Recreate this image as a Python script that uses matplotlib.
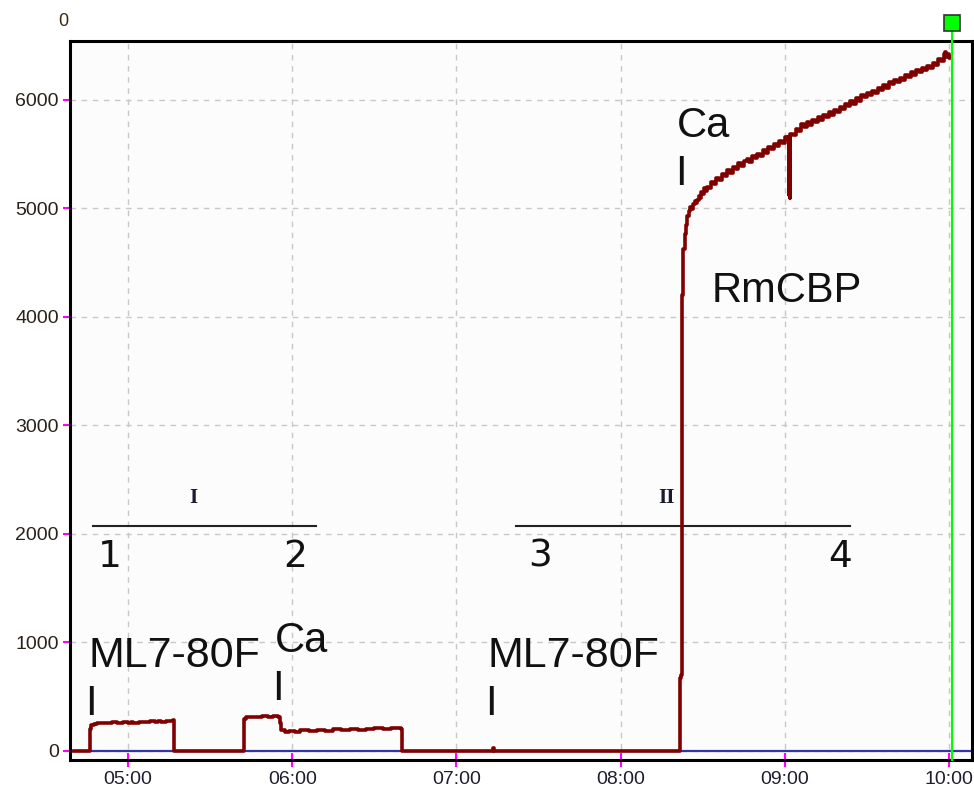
import matplotlib
matplotlib.use("Agg")
import matplotlib.pyplot as plt
from matplotlib.ticker import FixedLocator, FuncFormatter

# time in minutes since midnight, signal in counts
t_trace = [280.3, 285.6,
           285.7, 286.0, 286.4, 287.5, 288.5, 290, 292, 294, 296, 298, 300, 301, 302,
           304, 306, 308, 310, 311, 312, 314, 315.5, 316.5, 316.9,
           342.0, 342.3, 343, 345, 347, 349, 351, 353, 354.8, 355.4, 356, 357.5, 359,
           361, 363, 366, 369, 372, 375, 378, 381, 384, 387, 390, 393, 396, 398.5,
           399.8, 400.2,
           433.2, 433.4, 433.6,
           501.6, 501.7, 502.2, 502.4, 502.5, 502.8, 503.4, 503.9, 504.4, 505.0,
           505.5, 506.0, 506.5, 507.0, 507.5, 508.0, 508.5, 509.0, 509.5, 510.0,
           510.5, 511.0, 511.5, 512, 513, 514, 515, 516, 517, 518,
           519, 520, 521, 522, 523, 524, 525, 526, 527, 528,
           529, 530, 531, 532, 533, 534, 535, 536, 537, 538,
           539, 540, 540.8, 541.2, 541.4, 541.6, 541.8, 542.0, 543, 544,
           545, 546, 547, 548, 549, 550, 551, 552, 553, 554,
           555, 556, 557, 558, 559, 560, 561, 562, 563, 564,
           565, 566, 567, 568, 569, 570, 571, 572, 573, 574,
           575, 576, 577, 578, 579, 580, 581, 582, 583, 584,
           585, 586, 587, 588, 589, 590, 591, 592, 593, 594,
           595, 596, 597, 598, 598.5, 599, 599.5, 600, 600.4]
v_trace = [0, 0,
           0, 200, 235, 240, 250, 255, 252, 262, 258, 262, 250, 262, 258,
           265, 262, 270, 262, 272, 266, 276, 272, 278, 0,
           0, 290, 305, 312, 306, 316, 310, 318, 312, 250, 185, 168, 182,
           172, 186, 180, 190, 184, 194, 188, 196, 190, 200, 206, 198, 210, 204,
           200, 0,
           0, 25, 0,
           0, 670, 700, 3000, 4200, 4630, 4760, 4850, 4930, 4980,
           5010, 4990, 5040, 5065, 5050, 5080, 5115, 5095, 5150, 5135,
           5185, 5165, 5200, 5185, 5245, 5225, 5285, 5265, 5315, 5295,
           5355, 5330, 5385, 5365, 5415, 5390, 5435, 5455, 5430, 5485,
           5465, 5505, 5485, 5535, 5515, 5565, 5545, 5595, 5575, 5625,
           5600, 5655, 5640, 5660, 5120, 5660, 5100, 5690, 5675, 5735,
           5715, 5775, 5755, 5795, 5765, 5815, 5795, 5845, 5815, 5865,
           5845, 5885, 5865, 5905, 5885, 5935, 5915, 5965, 5945, 5995,
           5965, 6015, 5995, 6045, 6025, 6065, 6045, 6085, 6065, 6115,
           6095, 6135, 6115, 6165, 6145, 6185, 6165, 6205, 6185, 6235,
           6215, 6255, 6235, 6275, 6255, 6295, 6275, 6315, 6295, 6345,
           6325, 6375, 6355, 6425, 6445, 6400, 6425, 6400, 6390]

hour_ticks = [300, 360, 420, 480, 540, 600]
value_ticks = [0, 1000, 2000, 3000, 4000, 5000, 6000]
cursor_t = 601.1

fig = plt.figure(figsize=(9.74, 7.96), dpi=100)
fig.patch.set_facecolor("white")
ax = fig.add_axes([70 / 974, 36 / 796, 902 / 974, 719 / 796])
ax.set_facecolor("#fcfcfc")

ax.set_xlim(278.8, 608.4)
ax.set_ylim(-87.6, 6544)

ax.xaxis.set_major_locator(FixedLocator(hour_ticks))
ax.yaxis.set_major_locator(FixedLocator(value_ticks))
ax.xaxis.set_major_formatter(FuncFormatter(lambda x, p: "%02d:%02d" % (int(x) // 60, int(x) % 60)))
ax.grid(True, color="#c8c8c8", linestyle=(0, (4, 4)), linewidth=1.0)
ax.set_axisbelow(True)

for s in ax.spines.values():
    s.set_color("black")
    s.set_linewidth(2.2)

ax.tick_params(axis="x", direction="inout", length=10, width=1.5, color="magenta",
               labelsize=14, labelcolor="#1e1e30", pad=3)
ax.tick_params(axis="y", direction="out", length=5, width=1.5, color="magenta",
               labelsize=14, labelcolor="#2a2218", pad=3)
for lab in ax.get_xticklabels() + ax.get_yticklabels():
    lab.set_fontfamily("Liberation Sans")

# baseline and trace
ax.axhline(0, color="#3434a8", linewidth=1.6, zorder=2)
ax.plot(t_trace, v_trace, color="#800000", linewidth=2.6, zorder=4,
        drawstyle="steps-post")

# cursor
ax.plot([cursor_t, cursor_t], [-87.6, 6710], color="#00ff00", linewidth=1.5,
        clip_on=False, zorder=5)
ax.plot([cursor_t], [6710], marker="s", markersize=11, markerfacecolor="#00ff00",
        markeredgecolor="#333333", markeredgewidth=1.2, clip_on=False, zorder=6)
fig.text(63 / 974, 1 - 22 / 796, "0", fontsize=13, color="#3a2a10",
         ha="center", va="center", family="Liberation Sans")

# segment bars
ax.plot([287.2, 368.7], [2071, 2071], color="#222222", linewidth=1.5, zorder=3)
ax.plot([441.8, 563.8], [2071, 2071], color="#222222", linewidth=1.5, zorder=3)
ax.text(323.8, 2329, "I", fontsize=15, fontweight="bold", family="Liberation Serif",
        ha="center", va="center", color="#1a1a30")
ax.text(496.6, 2329, "II", fontsize=15, fontweight="bold", family="Liberation Serif",
        ha="center", va="center", color="#1a1a30")
for tt, lab in zip([293.4, 361.0, 450.5, 560.2], ["1", "2", "3", "4"]):
    ax.text(tt, 1785, lab, fontsize=27, family="DejaVu Sans", ha="center",
            va="center", color="#111111")

# labels
big = dict(fontsize=30, family="Liberation Sans", color="#111111", zorder=7)
ax.text(285.4, 770, "ML7-80F", ha="left", va="baseline", fontsize=31,
        family="Liberation Sans", color="#111111", zorder=7)
ax.text(286.5, 327, "I", ha="center", va="baseline", **big)
ax.text(353.7, 908, "Ca", ha="left", va="baseline", **big)
ax.text(354.8, 466, "I", ha="center", va="baseline", **big)
ax.text(431.2, 770, "ML7-80F", ha="left", va="baseline", fontsize=31,
        family="Liberation Sans", color="#111111", zorder=7)
ax.text(432.6, 327, "I", ha="center", va="baseline", **big)
ax.text(500.6, 5659, "Ca", ha="left", va="baseline", **big)
ax.text(502.1, 5216, "I", ha="center", va="baseline", **big)
ax.text(513.4, 4137, "RmCBP", ha="left", va="baseline", **big)

fig.savefig("out.png", dpi=100)
